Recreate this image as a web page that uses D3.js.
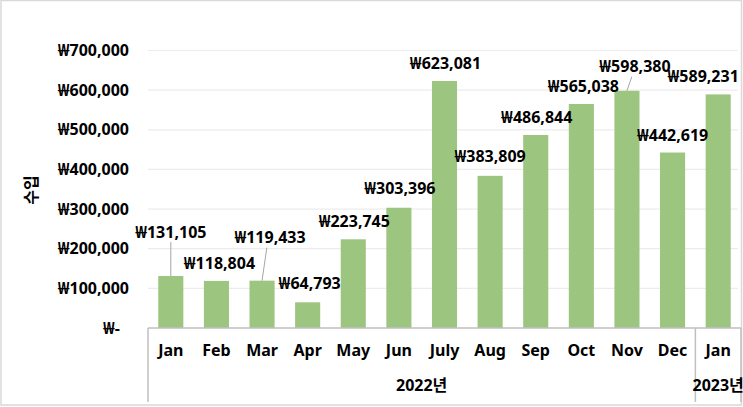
<!DOCTYPE html>
<html>
<head>
<meta charset="utf-8">
<script src="https://cdn.jsdelivr.net/npm/d3@7"></script>
<style>
  body { margin: 0; background: #fff; }
  text { font-family: "Noto Sans", "Noto Sans CJK KR", sans-serif; font-weight: bold; fill: #000; }
</style>
</head>
<body>
<div id="chart"></div>
<script>
// data
const months = ["Jan", "Feb", "Mar", "Apr", "May", "Jun", "July", "Aug", "Sep", "Oct", "Nov", "Dec", "Jan"];
const years = ["2022년", "2023년"];
const income = [131105, 118804, 119433, 64793, 223745, 303396, 623081, 383809, 486844, 565038, 598380, 442619, 589231];
const yTicks = [0, 100000, 200000, 300000, 400000, 500000, 600000, 700000];

// label nudges (dx, dy from bar top) and which labels get a leader line
const labelDx = [0, 3, 8, 2, 1, 1, 1, 0, 1, 2, 8, 0, -15];
const labelDy = [-44, -18, -43, -19, -18, -19, -18, -19, -18, -18, -24, -17, -18];
const leader = [true, false, true, false, false, false, false, false, false, false, true, false, false];

const W = 743, H = 407;
const left = 148, right = 741, zeroY = 328, bottomY = 402;

const svg = d3.select("#chart").append("svg")
  .attr("width", W).attr("height", H);

// outer chart border
svg.append("rect")
  .attr("x", 1).attr("y", 0.5).attr("width", W - 2.5).attr("height", H - 2.5)
  .attr("fill", "none").attr("stroke", "#d9d9d9").attr("stroke-width", 1.5);

const idx = months.map((d, i) => i);
const x = d3.scaleBand().domain(idx).range([left, right]).paddingInner(0.45).paddingOuter(0.225);
const y = d3.scaleLinear().domain([0, 700000]).range([zeroY, 50.5]);

const fmt = v => v === 0 ? "₩-" : "₩" + d3.format(",")(v);

// gridlines
svg.append("g").selectAll("line")
  .data(yTicks.filter(d => d > 0))
  .join("line")
  .attr("x1", left).attr("x2", 738)
  .attr("y1", d => y(d)).attr("y2", d => y(d))
  .attr("stroke", "#ececec").attr("stroke-width", 1.2);

// y axis labels
const yAxis = d3.axisLeft(y).tickValues(yTicks).tickFormat(fmt).tickSize(0).tickPadding(0);
const gy = svg.append("g").attr("transform", "translate(129,0)").call(yAxis);
gy.select(".domain").remove();
gy.selectAll("text").attr("font-size", 16).attr("font-family", null).attr("fill", "#000");
gy.selectAll(".tick").filter(d => d === 0).select("text").attr("dx", -9);

// y title
svg.append("text")
  .attr("transform", "translate(37,190) rotate(-90)")
  .attr("text-anchor", "middle")
  .attr("font-size", 16)
  .text("수입");

// bars
svg.append("g").selectAll("rect")
  .data(income)
  .join("rect")
  .attr("x", (d, i) => x(i))
  .attr("width", x.bandwidth())
  .attr("y", d => y(d))
  .attr("height", d => y(0) - y(d))
  .attr("fill", "#9cc580");

// leader lines
svg.append("g").selectAll("line")
  .data(income.map((v, i) => ({v, i})).filter(d => leader[d.i]))
  .join("line")
  .attr("x1", d => x(d.i) + x.bandwidth() / 2)
  .attr("y1", d => y(d.v))
  .attr("x2", d => x(d.i) + x.bandwidth() / 2 + labelDx[d.i] * 0.6)
  .attr("y2", d => y(d.v) + labelDy[d.i] + 10)
  .attr("stroke", "#a6a6a6").attr("stroke-width", 1);

// data labels
svg.append("g").selectAll("text")
  .data(income)
  .join("text")
  .attr("x", (d, i) => x(i) + x.bandwidth() / 2 + labelDx[i])
  .attr("y", (d, i) => y(d) + labelDy[i])
  .attr("dy", "0.35em")
  .attr("text-anchor", "middle")
  .attr("font-size", 16)
  .text(d => fmt(d));

// category axis box
const sep = x(12) - (x.step() - x.bandwidth()) / 2;
const axisColor = "#bfbfbf";
svg.append("line").attr("x1", left).attr("x2", right).attr("y1", zeroY).attr("y2", zeroY)
  .attr("stroke", axisColor).attr("stroke-width", 1.5);
svg.append("g").selectAll("line")
  .data([left, sep, right])
  .join("line")
  .attr("x1", d => d).attr("x2", d => d)
  .attr("y1", zeroY).attr("y2", bottomY)
  .attr("stroke", axisColor).attr("stroke-width", 1.5);

// month labels
const xAxis = d3.axisBottom(x).tickFormat(i => months[i]).tickSize(0).tickPadding(0);
const gx = svg.append("g").attr("transform", `translate(0,${zeroY + 17})`).call(xAxis);
gx.select(".domain").remove();
gx.selectAll("text").attr("font-size", 16).attr("font-family", null).attr("fill", "#000");

// year labels
const yearSpans = years.map((yr, k) => {
  return {yr, x0: k === 0 ? left : sep, x1: k === years.length - 1 ? right : sep};
});
svg.append("g").selectAll("text")
  .data(yearSpans)
  .join("text")
  .attr("x", d => (d.x0 + d.x1) / 2)
  .attr("y", 385)
  .attr("dy", "0.35em")
  .attr("text-anchor", "middle")
  .attr("font-size", 16)
  .text(d => d.yr);
</script>
</body>
</html>
